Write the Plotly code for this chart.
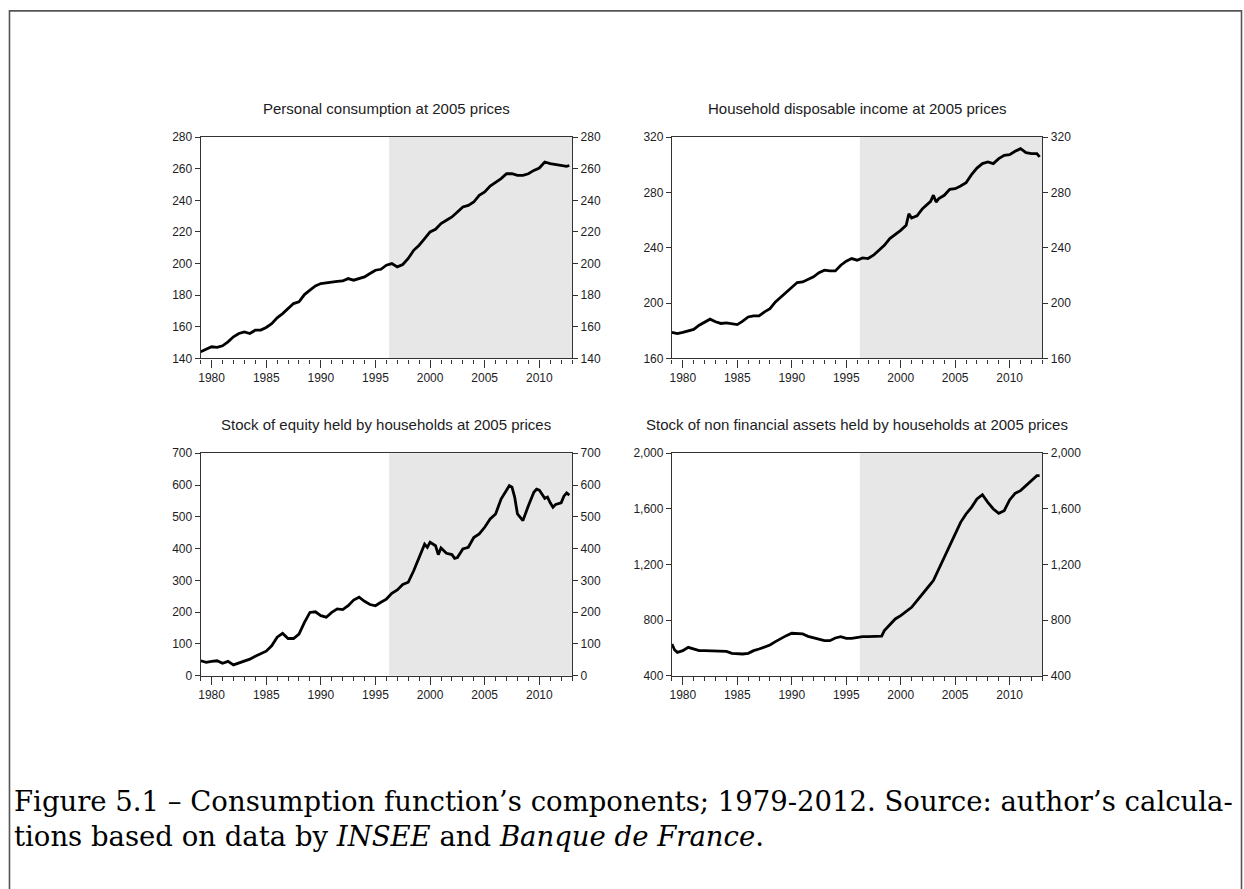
import plotly.graph_objects as go

# ---------------- data (decimal years) ----------------
cons_x = [1979.0, 1979.5, 1980.0, 1980.5, 1981.0, 1981.5, 1982.0, 1982.5, 1983.0, 1983.5,
          1984.0, 1984.5, 1985.0, 1985.5, 1986.0, 1986.5, 1987.0, 1987.5, 1988.0, 1988.5,
          1989.0, 1989.5, 1990.0, 1990.5, 1991.0, 1991.5, 1992.0, 1992.5, 1993.0, 1993.5,
          1994.0, 1994.5, 1995.0, 1995.5, 1996.0, 1996.5, 1997.0, 1997.5, 1998.0, 1998.5,
          1999.0, 1999.5, 2000.0, 2000.5, 2001.0, 2001.5, 2002.0, 2002.5, 2003.0, 2003.5,
          2004.0, 2004.5, 2005.0, 2005.5, 2006.0, 2006.5, 2007.0, 2007.5, 2008.0, 2008.5,
          2009.0, 2009.5, 2010.0, 2010.5, 2011.0, 2011.5, 2012.0, 2012.5, 2012.75]
cons_y = [144.2, 146.0, 147.4, 147.0, 148.0, 150.5, 153.7, 155.8, 156.8, 155.8,
          157.9, 158.0, 159.6, 162.0, 165.7, 168.4, 171.6, 174.7, 175.8, 180.4,
          183.2, 185.9, 187.4, 188.0, 188.4, 188.8, 189.0, 190.5, 189.5, 190.5,
          191.6, 193.7, 195.8, 196.4, 199.0, 200.0, 197.9, 199.4, 203.2, 208.4,
          211.6, 215.8, 220.0, 221.7, 225.3, 227.4, 229.5, 232.6, 235.8, 236.8,
          238.9, 243.2, 245.3, 249.0, 251.2, 253.7, 256.8, 256.8, 255.8, 255.8,
          256.8, 258.9, 260.4, 264.2, 263.2, 262.5, 262.1, 261.5, 262.0]

inc_x = [1979.0, 1979.5, 1980.0, 1980.5, 1981.0, 1981.5, 1982.0, 1982.5, 1983.0, 1983.5,
         1984.0, 1984.5, 1985.0, 1985.5, 1986.0, 1986.5, 1987.0, 1987.5, 1988.0, 1988.5,
         1989.0, 1989.5, 1990.0, 1990.5, 1991.0, 1991.5, 1992.0, 1992.5, 1993.0, 1993.5,
         1994.0, 1994.5, 1995.0, 1995.5, 1996.0, 1996.5, 1997.0, 1997.5, 1998.0, 1998.5,
         1999.0, 1999.5, 2000.0, 2000.5, 2000.75, 2001.0, 2001.5, 2002.0, 2002.5, 2002.75,
         2003.0, 2003.25, 2003.5, 2004.0, 2004.5, 2005.0, 2005.5, 2006.0, 2006.5, 2007.0,
         2007.5, 2008.0, 2008.5, 2009.0, 2009.5, 2010.0, 2010.5, 2011.0, 2011.5, 2012.0,
         2012.5, 2012.75]
inc_y = [178.8, 178.0, 178.8, 179.7, 181.0, 184.0, 186.5, 188.4, 186.5, 185.3,
         185.7, 185.0, 184.5, 187.0, 190.0, 190.8, 190.8, 193.7, 196.0, 200.9,
         204.5, 208.0, 211.7, 214.9, 215.3, 217.3, 219.0, 222.0, 223.8, 223.3,
         223.3, 227.4, 230.3, 232.2, 231.0, 232.7, 232.2, 234.6, 238.2, 241.8,
         246.6, 249.5, 252.6, 256.2, 264.5, 261.5, 263.0, 268.3, 271.9, 273.5,
         278.0, 273.0, 275.5, 277.9, 282.2, 282.7, 284.6, 287.0, 292.8, 297.6,
         300.8, 302.0, 300.8, 304.4, 306.8, 307.3, 309.7, 311.6, 308.7, 308.0,
         308.0, 305.6]

eq_x = [1979.0, 1979.5, 1980.0, 1980.5, 1981.0, 1981.5, 1982.0, 1982.5, 1983.0, 1983.5,
        1984.0, 1984.5, 1985.0, 1985.5, 1986.0, 1986.5, 1987.0, 1987.5, 1988.0, 1988.5,
        1989.0, 1989.5, 1990.0, 1990.5, 1991.0, 1991.5, 1992.0, 1992.5, 1993.0, 1993.5,
        1994.0, 1994.5, 1995.0, 1995.5, 1996.0, 1996.5, 1997.0, 1997.5, 1998.0, 1998.5,
        1999.0, 1999.5, 1999.75, 2000.0, 2000.5, 2000.75, 2001.0, 2001.5, 2002.0, 2002.25,
        2002.5, 2003.0, 2003.5, 2004.0, 2004.5, 2005.0, 2005.5, 2006.0, 2006.5, 2007.0,
        2007.25, 2007.5, 2007.75, 2008.0, 2008.5, 2009.0, 2009.5, 2009.75, 2010.0, 2010.5,
        2010.75, 2011.0, 2011.25, 2011.5, 2012.0, 2012.25, 2012.5, 2012.75]
eq_y = [47, 42, 45, 47, 39, 45, 34, 40, 44, 52,
        61, 68, 77, 94, 121, 133, 117, 117, 131, 168,
        199, 201, 189, 184, 199, 210, 208, 220, 238, 247,
        234, 224, 220, 231, 241, 259, 270, 287, 294, 330,
        372, 414, 404, 420, 409, 381, 402, 385, 381, 369,
        372, 399, 404, 435, 446, 467, 493, 509, 556, 584,
        598, 593, 561, 509, 488, 535, 577, 587, 584, 558,
        562, 544, 530, 539, 544, 565, 575, 568]

nfa_x = [1979.0, 1979.25, 1979.5, 1980.0, 1980.5, 1981.0, 1981.5, 1982.0, 1982.5, 1983.0,
         1983.5, 1984.0, 1984.5, 1985.0, 1985.5, 1986.0, 1986.5, 1987.0, 1987.5, 1988.0,
         1988.5, 1989.0, 1989.5, 1990.0, 1990.5, 1991.0, 1991.5, 1992.0, 1992.5, 1993.0,
         1993.5, 1994.0, 1994.5, 1995.0, 1995.5, 1996.0, 1996.5, 1997.0, 1997.5, 1998.0,
         1998.25, 1998.5, 1999.0, 1999.5, 2000.0, 2000.5, 2001.0, 2001.5, 2002.0, 2002.5,
         2003.0, 2003.5, 2004.0, 2004.5, 2005.0, 2005.5, 2006.0, 2006.5, 2007.0, 2007.5,
         2008.0, 2008.5, 2009.0, 2009.5, 2010.0, 2010.5, 2011.0, 2011.5, 2012.0, 2012.5,
         2012.75]
nfa_y = [628, 585, 568, 580, 604, 592, 580, 580, 580, 580,
         580, 575, 561, 556, 556, 561, 580, 592, 609, 621,
         645, 669, 688, 705, 705, 700, 683, 671, 659, 652,
         652, 671, 681, 669, 669, 676, 681, 681, 681, 681,
         685, 724, 767, 808, 832, 863, 892, 940, 992, 1036,
         1084, 1168, 1252, 1347, 1431, 1503, 1563, 1611, 1671, 1702,
         1647, 1599, 1568, 1587, 1664, 1712, 1731, 1767, 1808, 1839,
         1839]

titles = ["Personal consumption at 2005 prices",
          "Household disposable income at 2005 prices",
          "Stock of equity held by households at 2005 prices",
          "Stock of non financial assets held by households at 2005 prices"]
y_ranges = [[140, 280], [160, 320], [0, 700], [400, 2000]]
y_ticks = [list(range(140, 281, 20)), list(range(160, 321, 40)),
           list(range(0, 701, 100)), list(range(400, 2001, 400))]
x_ticks = [1980, 1985, 1990, 1995, 2000, 2005, 2010]
x_range = [1979, 2013]
shade_start = 1996.25
caption_1 = "Figure 5.1 – Consumption function’s components; 1979-2012. Source: author’s calcula-"
caption_2 = "tions based on data by <i>INSEE</i> and <i>Banque de France</i>."

series = [(cons_x, cons_y), (inc_x, inc_y), (eq_x, eq_y), (nfa_x, nfa_y)]

# ---------------- layout geometry (pixels -> paper) ----------------
W, H = 1244, 889
px_boxes = [(199, 571, 136, 358), (671, 1042, 136, 358),
            (199, 571, 453, 676), (671, 1042, 453, 676)]


def fy(p):
    # compensate for the small vertical fit applied when the page is photographed
    return (p - 5.63) / 0.98675


def xd(a, b):
    return [a / W, b / W]


def yd(top, bot):
    return [1 - fy(bot) / H, 1 - fy(top) / H]


TXT = "#1c1c24"
FONT = "Liberation Sans, Arial, sans-serif"

fig = go.Figure()
layout = dict(width=W, height=H, margin=dict(l=0, r=0, t=0, b=0),
              paper_bgcolor="white", plot_bgcolor="white", showlegend=False,
              font=dict(family=FONT, size=12, color=TXT))
shapes = []
annotations = []

for i, ((xs, ys), (l, r, t, b)) in enumerate(zip(series, px_boxes)):
    n = i + 1
    xa = f"xaxis{n if n > 1 else ''}"
    ya = f"yaxis{n if n > 1 else ''}"
    ya_r = f"yaxis{n + 4}"
    xref = f"x{n if n > 1 else ''}"
    yref = f"y{n if n > 1 else ''}"
    fmt = "," if i == 3 else ""

    fig.add_trace(go.Scatter(x=xs, y=ys, mode="lines", xaxis=xref, yaxis=yref,
                             line=dict(color="black", width=2.8), hoverinfo="skip"))
    fig.add_trace(go.Scatter(x=xs, y=ys, mode="lines", xaxis=xref, yaxis=f"y{n + 4}",
                             line=dict(color="black", width=1), opacity=0, hoverinfo="skip"))

    layout[xa] = dict(domain=xd(l, r), anchor=yref, range=x_range, tickvals=x_ticks,
                      ticks="outside", ticklen=8, tickwidth=1, tickcolor="#333",
                      showline=True, linecolor="#333", linewidth=1.2, mirror=True,
                      showgrid=False, zeroline=False,
                      minor=dict(dtick=1, tick0=1979, ticks="outside", ticklen=4,
                                 tickwidth=1, tickcolor="#333", showgrid=False),
                      tickfont=dict(size=12, color=TXT))
    common_y = dict(range=y_ranges[i], tickvals=y_ticks[i], tickformat=fmt,
                    ticks="outside", ticklen=5, tickwidth=1, tickcolor="#333",
                    showline=True, linecolor="#333", linewidth=1.2,
                    showgrid=False, zeroline=False, tickfont=dict(size=12, color=TXT))
    layout[ya] = dict(domain=yd(t, b), anchor=xref, side="left", **common_y)
    layout[ya_r] = dict(overlaying=yref, anchor=xref, side="right", **common_y)

    shapes.append(dict(type="rect", xref=xref, yref=f"{yref} domain",
                       x0=shade_start, x1=x_range[1], y0=0, y1=1,
                       fillcolor="#e7e7e7", line=dict(width=0), layer="below"))
    annotations.append(dict(text=titles[i], xref=f"{xref} domain", yref=f"{yref} domain",
                            x=0.5, y=1, xanchor="center", yanchor="bottom", yshift=18,
                            showarrow=False, font=dict(family=FONT, size=15, color=TXT)))

# page frame
shapes.append(dict(type="rect", xref="paper", yref="paper",
                   x0=7.5 / W, x1=1241.5 / W, y0=-0.05, y1=1 - fy(9.5) / H,
                   line=dict(color="#555", width=1.6), fillcolor="rgba(0,0,0,0)", layer="above"))

CAP_FONT = dict(family="DejaVu Serif, Liberation Serif, serif", size=27.5, color="black")
annotations.append(dict(text=caption_1, xref="paper", yref="paper", x=10 / W, y=1 - fy(802) / H,
                        xanchor="left", yanchor="middle", showarrow=False, font=CAP_FONT))
annotations.append(dict(text=caption_2, xref="paper", yref="paper", x=10 / W, y=1 - fy(837) / H,
                        xanchor="left", yanchor="middle", showarrow=False, font=CAP_FONT))

layout["shapes"] = shapes
layout["annotations"] = annotations
fig.update_layout(**layout)

post = ("var d=document.getElementById('{plot_id}');"
        "document.documentElement.style.overflow='hidden';"
        "document.body.style.margin='0';"
        "document.body.style.overflow='hidden';")
fig.write_html("out.html", config={"displayModeBar": False}, post_script=post)
